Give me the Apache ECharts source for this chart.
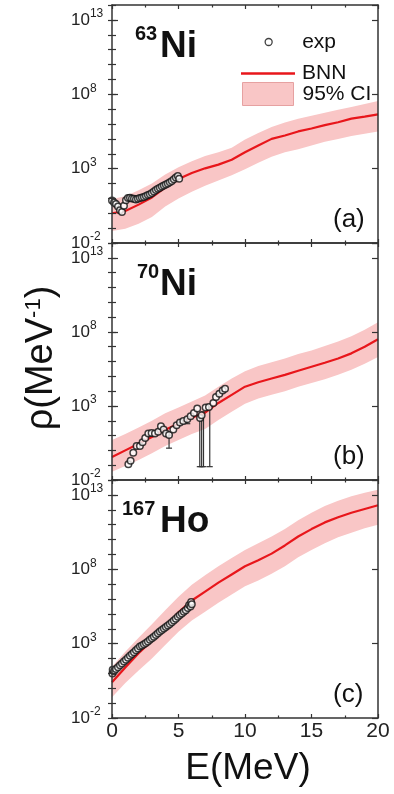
<!DOCTYPE html>
<html>
<head>
<meta charset="utf-8">
<script src="https://cdn.jsdelivr.net/npm/echarts@6/dist/echarts.min.js"></script>
<style>
  html, body { margin: 0; padding: 0; background: #fff; }
  #chart { width: 394px; height: 794px; }
</style>
</head>
<body>
<div id="chart"></div>
<script>
const FONT = '"Liberation Sans", Arial, sans-serif';
const RED = '#e8161b';
const PINK = '#f9c6c6';

// energy grid of the BNN curves (MeV)
const energy = [0, 1, 2, 3, 4, 5, 6, 7, 8, 9, 10, 11, 12, 13, 14, 15, 16, 17, 18, 19, 20];

// all densities below are log10(rho / MeV^-1)
const ni63Bnn = [0.0, 0.15, 0.58, 1.06, 1.72, 2.3, 2.7, 3.02, 3.27, 3.6, 4.1, 4.55, 5.0, 5.23, 5.5, 5.7, 5.92, 6.12, 6.36, 6.5, 6.65];
const ni63Hi = [0.95, 1.15, 1.55, 2.0, 2.6, 3.1, 3.5, 3.85, 4.1, 4.4, 4.95, 5.4, 5.8, 6.1, 6.35, 6.55, 6.75, 6.95, 7.15, 7.35, 7.55];
const ni63Lo = [-1.2, -1.05, -0.7, -0.25, 0.45, 1.0, 1.45, 1.85, 2.2, 2.55, 2.95, 3.4, 3.8, 4.1, 4.3, 4.55, 4.8, 5.0, 5.2, 5.35, 5.5];
const ni63Exp = [
  [0.0, 0.85], [0.15, 0.72], [0.3, 0.62], [0.45, 0.45], [0.6, 0.2], [0.75, 0.08], [0.9, 0.5],
  [1.05, 0.88], [1.2, 1.02], [1.35, 1.05], [1.5, 1.0], [1.65, 0.98], [1.8, 0.93], [1.95, 0.98],
  [2.1, 1.02], [2.25, 1.06], [2.4, 1.1], [2.55, 1.16], [2.7, 1.22], [2.85, 1.28], [3.0, 1.36],
  [3.15, 1.46], [3.3, 1.56], [3.45, 1.64], [3.6, 1.72], [3.75, 1.79], [3.9, 1.86], [4.05, 1.93],
  [4.2, 2.0], [4.35, 2.08], [4.5, 2.17], [4.65, 2.28], [4.8, 2.4], [4.95, 2.5], [5.05, 2.32]
];

const ni70Bnn = [-0.45, 0.0, 0.45, 0.9, 1.4, 1.8, 2.2, 2.55, 3.2, 3.75, 4.3, 4.6, 4.85, 5.1, 5.38, 5.65, 5.92, 6.2, 6.55, 7.0, 7.5];
const ni70Hi = [0.7, 1.1, 1.55, 2.0, 2.5, 2.9, 3.3, 3.7, 4.3, 4.85, 5.35, 5.7, 5.95, 6.2, 6.5, 6.75, 7.05, 7.35, 7.7, 8.15, 8.65];
const ni70Lo = [-1.45, -1.05, -0.65, -0.2, 0.3, 0.7, 1.1, 1.45, 2.05, 2.6, 3.15, 3.5, 3.75, 4.0, 4.3, 4.55, 4.8, 5.1, 5.45, 5.85, 6.3];
const ni70Exp = [
  [1.23, -0.94], [1.4, -0.7], [1.6, -0.16], [1.85, 0.29], [2.1, 0.29], [2.3, 0.55], [2.5, 0.84],
  [2.73, 1.14], [2.98, 1.18], [3.23, 1.14], [3.48, 1.25], [3.68, 1.63], [3.88, 1.41], [4.06, 1.14],
  [4.29, 1.03], [4.61, 1.41], [4.86, 1.7], [5.11, 1.88], [5.36, 1.99], [5.66, 2.1], [5.91, 2.3],
  [6.16, 2.53], [6.41, 2.82], [6.62, 2.19], [6.74, 2.37], [7.04, 2.89], [7.29, 2.93], [7.62, 3.2],
  [7.82, 3.6], [8.07, 3.83], [8.32, 4.05], [8.5, 4.16]
];
// [E, lower, upper] of the error bars
const ni70Err = [
  [4.29, 0.15, 1.03], [5.66, 1.8, 2.1], [6.6, -1.1, 2.19], [6.74, -1.1, 2.37], [6.88, -1.1, 2.6], [7.35, -1.1, 2.93]
];

const ho167Bnn = [0.4, 1.4, 2.35, 3.2, 4.15, 5.1, 5.9, 6.5, 7.1, 7.65, 8.2, 8.6, 9.05, 9.6, 10.2, 10.7, 11.15, 11.5, 11.8, 12.05, 12.3];
const ho167Hi = [1.45, 2.45, 3.4, 4.3, 5.25, 6.15, 6.95, 7.6, 8.2, 8.75, 9.3, 9.75, 10.2, 10.7, 11.3, 11.8, 12.25, 12.6, 12.9, 13.15, 13.35];
const ho167Lo = [-0.6, 0.35, 1.2, 2.0, 2.9, 3.8, 4.55, 5.15, 5.75, 6.3, 6.85, 7.25, 7.7, 8.2, 8.8, 9.3, 9.75, 10.15, 10.45, 10.75, 11.0];
const ho167Exp = [
  [0.03, 1.0], [0.05, 1.25], [0.15, 1.15], [0.3, 1.3], [0.45, 1.42], [0.6, 1.55], [0.75, 1.66],
  [0.9, 1.8], [1.05, 1.92], [1.2, 2.05], [1.35, 2.18], [1.5, 2.3], [1.65, 2.42], [1.8, 2.55],
  [1.95, 2.68], [2.1, 2.8], [2.25, 2.88], [2.4, 2.96], [2.55, 3.05], [2.7, 3.15], [2.85, 3.26],
  [3.0, 3.36], [3.15, 3.47], [3.3, 3.58], [3.45, 3.7], [3.6, 3.82], [3.75, 3.92], [3.9, 4.02],
  [4.05, 4.12], [4.2, 4.22], [4.35, 4.32], [4.5, 4.43], [4.65, 4.55], [4.8, 4.68], [4.95, 4.8],
  [5.1, 4.92], [5.25, 5.03], [5.4, 5.15], [5.55, 5.25], [5.7, 5.4], [5.8, 5.6], [5.9, 5.5],
  [5.95, 5.8], [6.0, 5.65]
];

const yTickExps = [-2, 3, 8, 13];
const panelTags = ['(a)', '(b)', '(c)'];
const nuclei = [['63', 'Ni'], ['70', 'Ni'], ['167', 'Ho']];

const panels = [
  { bnn: ni63Bnn, hi: ni63Hi, lo: ni63Lo, exp: ni63Exp, err: [] },
  { bnn: ni70Bnn, hi: ni70Hi, lo: ni70Lo, exp: ni70Exp, err: ni70Err },
  { bnn: ho167Bnn, hi: ho167Hi, lo: ho167Lo, exp: ho167Exp, err: [] }
];
const tops = [5, 243, 480];
const heights = [238, 237, 238];

const pow10 = (v) => Math.pow(10, v);
const dark = '#333';
const frameLine = { show: true, onZero: false, lineStyle: { color: dark, width: 1.5 } };

const grids = [];
const xAxes = [];
const yAxes = [];
const series = [];

panels.forEach((p, i) => {
  grids.push({ left: 112, width: 266, top: tops[i], height: heights[i] });

  // bottom / top frame with inward ticks
  ['bottom', 'top'].forEach((pos) => {
    xAxes.push({
      type: 'value', gridIndex: i, position: pos, min: 0, max: 20, interval: 5, z: 10,
      axisLine: frameLine,
      axisTick: { inside: true, length: 4, lineStyle: { color: dark, width: 1.2 } },
      minorTick: { show: true, splitNumber: 2, length: 2.5, lineStyle: { color: dark, width: 1.2 } },
      splitLine: { show: false },
      axisLabel: {
        show: pos === 'bottom' && i === 2,
        margin: 3, fontSize: 21, fontFamily: FONT, color: '#222'
      }
    });
  });

  // left / right frame: major ticks every 5 decades, small ticks every decade
  ['left', 'right'].forEach((pos) => {
    yAxes.push({
      type: 'log', logBase: 10, gridIndex: i, position: pos, min: 0.01, max: 1e14, interval: 5, z: 10,
      axisLine: frameLine,
      axisTick: { inside: true, length: 6, lineStyle: { color: dark, width: 1.2 } },
      splitLine: { show: false },
      axisLabel: {
        show: pos === 'left',
        showMaxLabel: false,
        align: 'left',
        margin: 41,
        formatter: (v) => {
          const n = Math.round(Math.log10(v));
          return yTickExps.includes(n) ? '{b|10}{s|' + n + '}' : '';
        },
        rich: {
          b: { fontSize: 17, fontFamily: FONT, color: '#222' },
          s: { fontSize: 12, fontFamily: FONT, color: '#222', padding: [0, 0, 12, 0] }
        }
      }
    });
    yAxes.push({
      type: 'log', logBase: 10, gridIndex: i, position: pos, min: 0.01, max: 1e14, interval: 1, z: 10,
      axisLine: { show: false },
      axisTick: { inside: true, length: 4, lineStyle: { color: dark, width: 1.2 } },
      splitLine: { show: false },
      axisLabel: { show: false }
    });
  });

  const xi = 2 * i;
  const yi = 4 * i;

  // 95% CI band: one polygon through the upper and lower edges
  series.push({
    name: '95% CI', type: 'custom', xAxisIndex: xi, yAxisIndex: yi, z: 1, silent: true,
    encode: { x: 0, y: [1, 2] },
    itemStyle: { color: PINK },
    data: energy.map((e, k) => [e, pow10(p.lo[k]), pow10(p.hi[k])]),
    renderItem: (params, api) => {
      if (params.dataIndex !== 0) return null;
      const up = energy.map((e, k) => api.coord([e, pow10(p.hi[k])]));
      const down = energy.map((e, k) => api.coord([e, pow10(p.lo[k])])).reverse();
      return { type: 'polygon', shape: { points: up.concat(down) }, style: { fill: PINK } };
    }
  });
  series.push({
    name: 'BNN', type: 'line', xAxisIndex: xi, yAxisIndex: yi,
    data: energy.map((e, k) => [e, pow10(p.bnn[k])]),
    symbol: 'none', lineStyle: { color: RED, width: 2.2 }, itemStyle: { color: RED }, z: 3
  });
  if (p.err.length) {
    series.push({
      name: 'err', type: 'custom', xAxisIndex: xi, yAxisIndex: yi, z: 3, silent: true,
      encode: { x: 0, y: [1, 2] },
      data: p.err.map(([e, lo, hi]) => [e, pow10(lo), pow10(hi)]),
      renderItem: (params, api) => {
        const a = api.coord([api.value(0), api.value(1)]);
        const b = api.coord([api.value(0), api.value(2)]);
        const w = 3;
        const st = { stroke: dark, lineWidth: 1.2 };
        return {
          type: 'group',
          children: [
            { type: 'line', shape: { x1: a[0], y1: a[1], x2: b[0], y2: b[1] }, style: st },
            { type: 'line', shape: { x1: a[0] - w, y1: a[1], x2: a[0] + w, y2: a[1] }, style: st },
            { type: 'line', shape: { x1: b[0] - w, y1: b[1], x2: b[0] + w, y2: b[1] }, style: st }
          ]
        };
      }
    });
  }
  series.push({
    name: 'exp', type: 'scatter', xAxisIndex: xi, yAxisIndex: yi,
    data: p.exp.map(([e, v]) => [e, pow10(v)]),
    symbol: 'circle', symbolSize: 6.5,
    itemStyle: { color: '#fff', borderColor: '#111', borderWidth: 1.5 }, z: 4
  });
});

const legendText = { fontSize: 21, fontFamily: FONT, color: '#111' };

const graphic = [];
nuclei.forEach(([mass, sym], i) => {
  const t = tops[i] - 5;
  const massX = [135, 137, 122][i];
  graphic.push({
    type: 'text', x: massX, y: t + 34,
    style: { text: mass, font: 'bold 20px ' + FONT, fill: '#111', verticalAlign: 'middle' }
  });
  graphic.push({
    type: 'text', x: 160, y: t + 47,
    style: { text: sym, font: 'bold 37px ' + FONT, fill: '#111', verticalAlign: 'middle' }
  });
  graphic.push({
    type: 'text', x: 333, y: tops[i] + heights[i] - 23,
    style: { text: panelTags[i], font: '26px ' + FONT, fill: '#111', verticalAlign: 'middle' }
  });
});
graphic.push({
  type: 'text', x: 248, y: 769,
  style: { text: 'E(MeV)', font: '37px ' + FONT, fill: '#111', align: 'center', verticalAlign: 'middle' }
});
graphic.push({
  type: 'text', x: 42, y: 358, rotation: Math.PI / 2,
  style: {
    text: '{b|ρ(MeV}{s|-1}{b|)}', align: 'center', verticalAlign: 'middle',
    rich: {
      b: { fontSize: 38, fontFamily: FONT, fill: '#111' },
      s: { fontSize: 22, fontFamily: FONT, fill: '#111', padding: [0, 0, 16, 0] }
    }
  }
});

const chart = echarts.init(document.getElementById('chart'));
chart.setOption({
  animation: false,
  backgroundColor: '#fff',
  grid: grids,
  xAxis: xAxes,
  yAxis: yAxes,
  legend: [
    {
      data: [{ name: 'exp', icon: 'circle', itemStyle: { color: '#fff', borderColor: '#111', borderWidth: 1.3 } }],
      left: 259.5, top: 26.5, itemWidth: 7, itemHeight: 7, selectedMode: false,
      textStyle: Object.assign({ padding: [0, 0, 0, 25] }, legendText)
    },
    {
      data: [{ name: 'BNN', icon: 'rect', itemStyle: { color: RED } }],
      left: 236, top: 58, itemWidth: 54, itemHeight: 2.5, selectedMode: false,
      textStyle: Object.assign({ padding: [0, 0, 0, 2] }, legendText)
    },
    {
      data: [{ name: '95% CI', icon: 'rect', itemStyle: { color: PINK, borderColor: '#e6a1a1', borderWidth: 1 } }],
      left: 237, top: 77, itemWidth: 51, itemHeight: 23, selectedMode: false,
      textStyle: Object.assign({ padding: [0, 0, 0, 4] }, legendText)
    }
  ],
  graphic: graphic,
  series: series
});
</script>
</body>
</html>
